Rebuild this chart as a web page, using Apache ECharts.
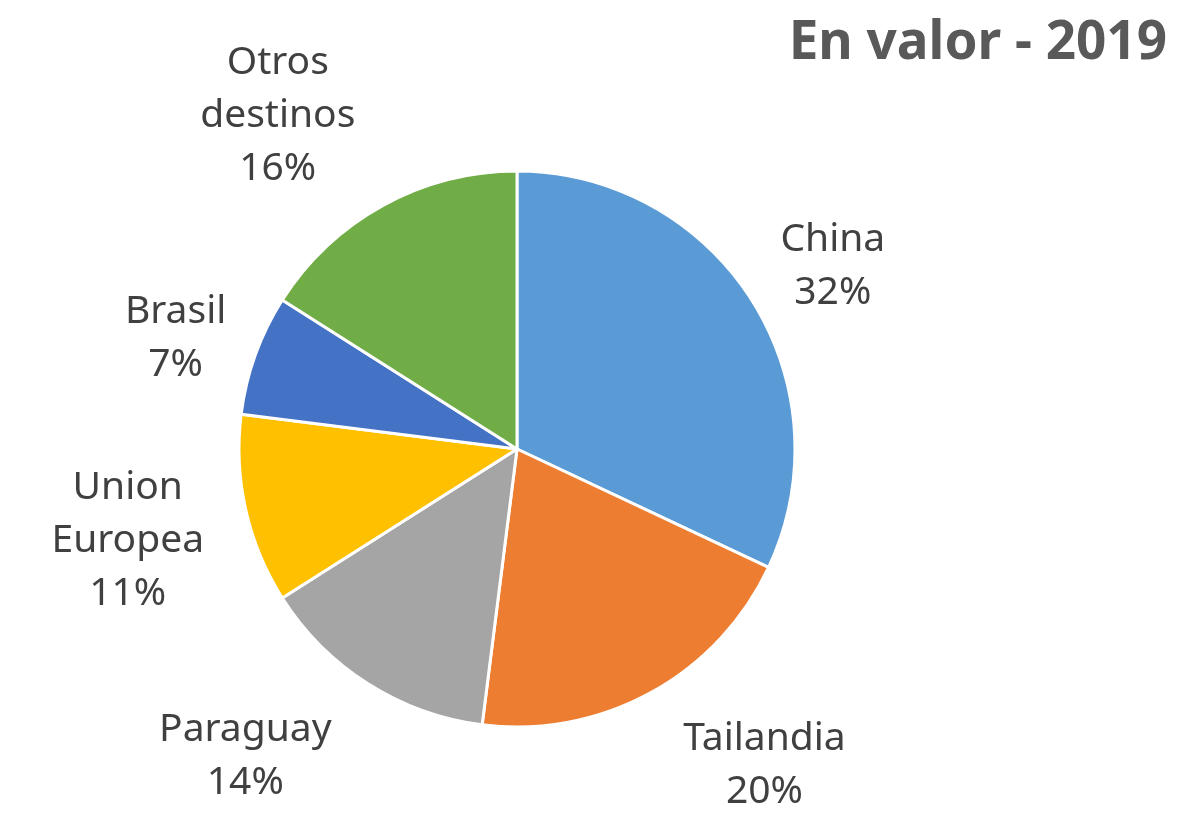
<!DOCTYPE html>
<html>
<head>
<meta charset="utf-8">
<title>En valor - 2019</title>
<script src="https://cdn.jsdelivr.net/npm/echarts@6/dist/echarts.min.js"></script>
<style>
  html, body { margin: 0; padding: 0; background: #fff; }
  #chart { width: 1183px; height: 816px; }
</style>
</head>
<body>
<div id="chart"></div>
<script>
// data
const DESTINOS = ['China', 'Tailandia', 'Paraguay', 'Union\nEuropea', 'Brasil', 'Otros\ndestinos'];
const VALORES = [32, 20, 14, 11, 7, 16];
const COLORES = ['#5B9BD5', '#ED7D31', '#A5A5A5', '#FFC000', '#4472C4', '#70AD47'];

// label placement (Excel "best fit"): distance from centre and angle shift vs slice middle
const LABEL_R = [365, 402, 410, 400, 359, 410];
const LABEL_SHIFT = [-2.3, 9.2, -9.1, 0.7, 1.8, 6.9];

const CENTER = [517, 449];
const RADIUS = 278;
const FONT = '"Noto Sans", "DejaVu Sans", sans-serif';

const chart = echarts.init(document.getElementById('chart'));

const total = VALORES.reduce((a, b) => a + b, 0);
const midAngles = [];
let acc = 0;
VALORES.forEach(v => {
    midAngles.push(90 - (acc + v / 2) / total * 360);
    acc += v;
});

chart.setOption({
    animation: false,
    title: {
        text: 'En valor - 2019',
        right: 11,
        top: 12,
        textStyle: { fontFamily: FONT, fontSize: 53, fontWeight: 'bold', color: '#595959' }
    },
    series: [{
        type: 'pie',
        center: CENTER,
        radius: RADIUS,
        startAngle: 90,
        clockwise: true,
        label: {
            show: true,
            position: 'outside',
            fontFamily: FONT,
            fontSize: 39,
            lineHeight: 53,
            color: '#404040',
            align: 'center',
            formatter: p => p.name + '\n' + Math.round(p.percent) + '%'
        },
        labelLine: { show: false },
        labelLayout: params => {
            const i = params.dataIndex;
            const a = (midAngles[i] + LABEL_SHIFT[i]) * Math.PI / 180;
            return {
                x: CENTER[0] + LABEL_R[i] * Math.cos(a),
                y: CENTER[1] - LABEL_R[i] * Math.sin(a),
                align: 'center',
                verticalAlign: 'middle'
            };
        },
        itemStyle: { borderColor: '#fff', borderWidth: 3 },
        emphasis: { disabled: true },
        data: DESTINOS.map((name, i) => ({
            name: name,
            value: VALORES[i],
            itemStyle: { color: COLORES[i] }
        }))
    }]
});
</script>
</body>
</html>
